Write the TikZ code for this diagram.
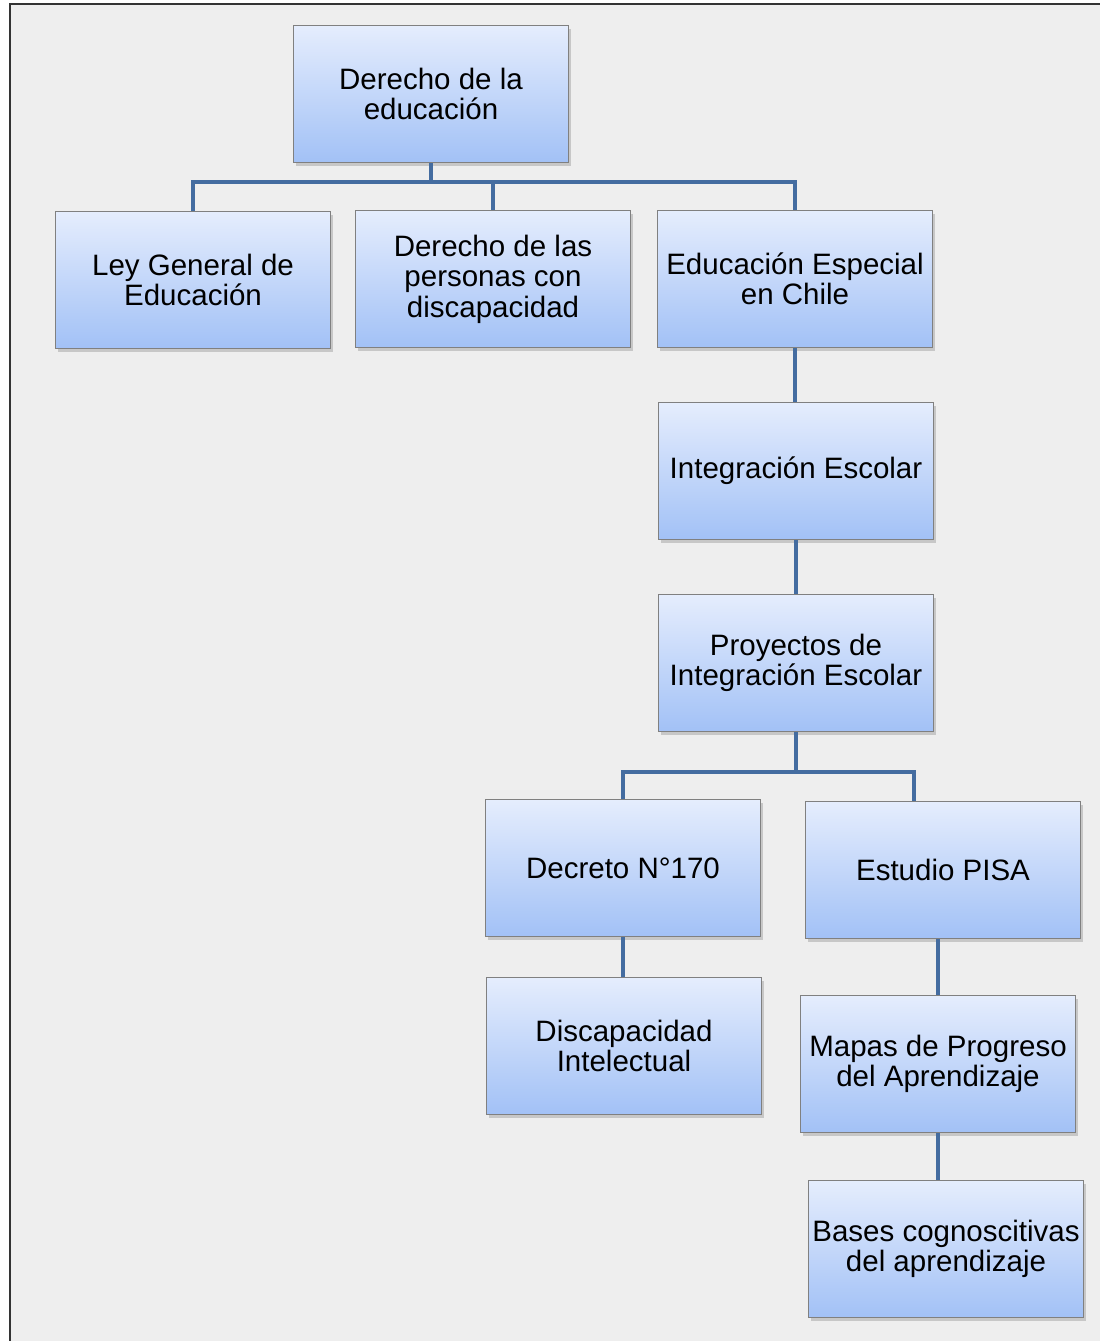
\documentclass[tikz,border=0pt]{standalone}
\usepackage{fontspec}
\setmainfont{Liberation Sans}
\usetikzlibrary{shadows}

\definecolor{boxtop}{RGB}{229,237,253}
\definecolor{boxbot}{RGB}{162,193,246}
\definecolor{boxline}{RGB}{128,128,128}
\definecolor{linkblue}{RGB}{68,108,160}
\definecolor{pagegray}{RGB}{238,238,238}

\tikzset{
  topic/.style={draw=boxline, line width=1.2pt, top color=boxtop, bottom color=boxbot,
    minimum width=275pt, minimum height=137pt, inner sep=0pt, align=center,
    font=\fontsize{29.5}{30.5}\selectfont,
    drop shadow={shadow xshift=2pt, shadow yshift=-3pt, opacity=0.35}},
  link/.style={draw=linkblue, line width=4.5pt}
}

\begin{document}
\begin{tikzpicture}[x=1pt,y=-1pt]
\useasboundingbox (0,0) rectangle (1100,1341);
% Page background and frame
\fill[white] (0,0) rectangle (1100,1341);
\fill[pagegray] (10,4) rectangle (1100,1341);
\draw[line width=2pt, black!80] (10,1341) -- (10,4) -- (1100,4);
% Top of the tree
\node[topic] (derecho) at (431,94) {Derecho de la\\educación};
% First level
\node[topic] (ley) at (193,280) {Ley General de\\Educación};
\node[topic] (personas) at (493,279) {Derecho de las\\personas con\\discapacidad};
\node[topic] (especial) at (795,279) {Educación Especial\\en Chile};
% Branch of special education
\node[topic] (integracion) at (796,471) {Integración Escolar};
\node[topic] (proyectos) at (796,663) {Proyectos de\\Integración Escolar};
\node[topic] (decreto) at (623,868) {Decreto N°170};
\node[topic] (pisa) at (943,870) {Estudio PISA};
\node[topic] (intelectual) at (624,1046) {Discapacidad\\Intelectual};
\node[topic] (mapas) at (938,1064) {Mapas de Progreso\\del Aprendizaje};
\node[topic] (bases) at (946,1249) {Bases cognoscitivas\\del aprendizaje};
% Bars of the two forks
\coordinate (bar1) at (431,182);
\coordinate (bar2) at (796,772);
\coordinate (pisatop) at (914,801);
% Connectors of the first fork
\draw[link] (derecho.south) -- (bar1);
\draw[link] (ley.north) |- (especial.north |- bar1) -- (especial.north);
\draw[link] (personas.north) -- (personas.north |- bar1);
% Chain down the right side
\draw[link] (especial.south) -- (integracion.north -| especial.south);
\draw[link] (integracion.south) -- (proyectos.north);
% Connectors of the second fork
\draw[link] (proyectos.south) -- (bar2);
\draw[link] (decreto.north) |- (pisatop |- bar2) -- (pisatop);
\draw[link] (decreto.south) -- (intelectual.north -| decreto.south);
\draw[link] (pisa.south -| mapas.north) -- (mapas.north);
\draw[link] (mapas.south) -- (bases.north -| mapas.south);
\end{tikzpicture}
\end{document}
